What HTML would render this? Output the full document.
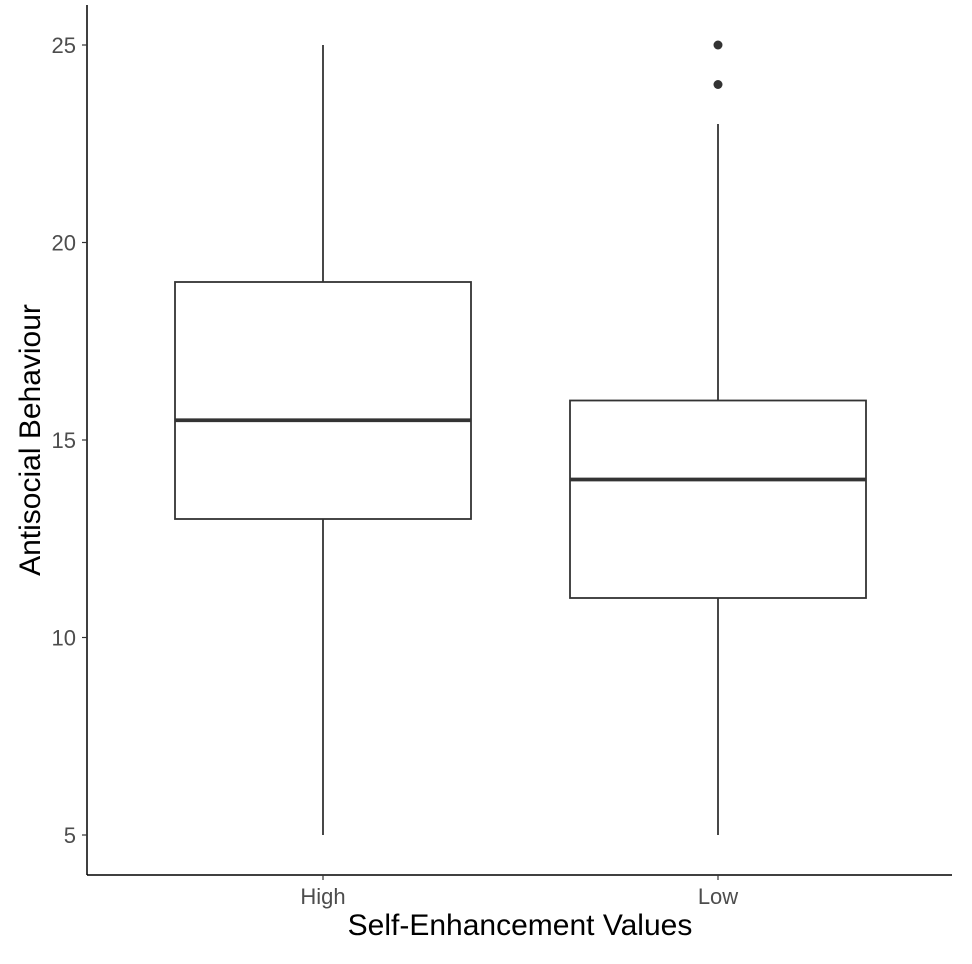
<!DOCTYPE html>
<html><head><meta charset="utf-8"><style>
html,body{margin:0;padding:0;background:#fff;}
svg{display:block;font-family:"Liberation Sans",sans-serif;}
</style></head><body>
<svg id="chart" width="972" height="964" viewBox="0 0 972 964"></svg>
<script>
const categories = ["High", "Low"];
const mins = [5, 5];
const q1s = [13, 11];
const medians = [15.5, 14];
const q3s = [19, 16];
const maxs = [25, 23];
const outliers = [[], [24, 25]];
const yTicks = [5, 10, 15, 20, 25];

const svg = document.getElementById('chart');
const NS = 'http://www.w3.org/2000/svg';
function y(v){ return 835 - (v - 5) * 39.5; }
function x(i){ return 323 + i * 395; }
const halfW = 148;
function mk(tag, attrs, parent){
  const e = document.createElementNS(NS, tag);
  for (const k in attrs) e.setAttribute(k, attrs[k]);
  (parent || svg).appendChild(e);
  return e;
}
let ax = mk('line', {x1:87, y1:5, x2:87, y2:875, stroke:'#000', 'stroke-width':1.5});


ax = mk('line', {x1:87, y1:875, x2:952, y2:875, stroke:'#000', 'stroke-width':1.5});



yTicks.forEach(t => {
  const tk = mk('line', {x1:82, y1:y(t), x2:87, y2:y(t), stroke:'#333', 'stroke-width':1.2});
  
  
  const lb = mk('text', {x:76, y:y(t)+8, 'text-anchor':'end', 'font-size':22, fill:'#4d4d4d'});
  lb.textContent = t;
  
  
});

categories.forEach((c, i) => {
  const cx = x(i);
  const g = mk('g', {});
  
  
  mk('line', {x1:cx, y1:y(maxs[i]), x2:cx, y2:y(q3s[i]), stroke:'#333', 'stroke-width':1.8}, g);
  mk('line', {x1:cx, y1:y(q1s[i]), x2:cx, y2:y(mins[i]), stroke:'#333', 'stroke-width':1.8}, g);
  mk('rect', {x:cx-halfW, y:y(q3s[i]), width:halfW*2, height:y(q1s[i])-y(q3s[i]), fill:'#fff', stroke:'#333', 'stroke-width':1.8}, g);
  mk('line', {x1:cx-halfW, y1:y(medians[i]), x2:cx+halfW, y2:y(medians[i]), stroke:'#333', 'stroke-width':3.8}, g);
  outliers[i].forEach(o => {
    const p = mk('circle', {cx:cx, cy:y(o), r:4.5, fill:'#333'});
    
    
  });
  const tk = mk('line', {x1:cx, y1:875, x2:cx, y2:880, stroke:'#333', 'stroke-width':1.2});
  
  
  const lb = mk('text', {x:cx, y:904, 'text-anchor':'middle', 'font-size':22, fill:'#4d4d4d'});
  lb.textContent = c;
  
  
});

let t = mk('text', {x:520, y:935, 'text-anchor':'middle', 'font-size':30, fill:'#000'});
t.textContent = 'Self-Enhancement Values';


t = mk('text', {x:0, y:0, 'text-anchor':'middle', 'font-size':30, fill:'#000', transform:'translate(40,440) rotate(-90)'});
t.textContent = 'Antisocial Behaviour';


</script>
</body></html>
